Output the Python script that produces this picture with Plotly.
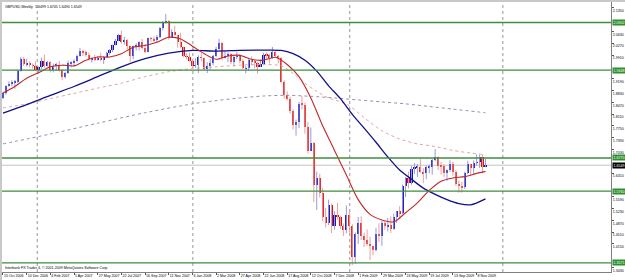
import plotly.graph_objects as go
import pandas as pd

header_text = "GBPUSD,Weekly  1.6499 1.6745 1.6490 1.6549"
footer_text = "Interbank FX Trader 4, \u00a9 2001-2009 MetaQuotes Software Corp."
first_week = "2006-10-15"

opens = [1.8600,1.8740,1.8970,1.9030,1.9080,1.9080,1.9420,1.9780,1.9630,1.9680,
         1.9600,1.9580,1.9460,1.9530,1.9720,1.9570,1.9700,1.9460,1.9580,1.9620,
         1.9450,1.9250,1.9370,1.9660,1.9680,1.9720,1.9880,2.0020,1.9990,1.9910,
         1.9780,1.9800,1.9770,1.9830,1.9750,1.9860,1.9980,2.0070,2.0210,2.0330,
         2.0530,2.0310,2.0370,2.0180,1.9870,2.0190,2.0200,2.0300,2.0120,2.0000,
         2.0420,2.0400,2.0360,2.0450,2.0720,2.0900,2.0940,2.0440,2.0600,2.0520,
         2.0300,2.0160,1.9870,1.9850,1.9720,1.9580,1.9600,1.9840,1.9820,1.9480,
         1.9570,1.9670,1.9870,2.0100,2.0280,1.9830,1.9890,1.9950,1.9700,1.9850,
         1.9870,1.9740,1.9500,1.9500,1.9770,1.9700,1.9670,1.9550,1.9640,1.9920,
         1.9910,1.9820,2.0000,1.9890,1.9830,1.9090,1.8680,1.8580,1.8200,1.7780,
         1.7880,1.8420,1.8400,1.7720,1.6990,1.7240,1.5940,1.6160,1.5700,1.4970,
         1.4800,1.5340,1.4700,1.5030,1.4960,1.4700,1.4560,1.5020,1.4680,1.3740,
         1.4450,1.4780,1.4380,1.4280,1.4150,1.4080,1.3960,1.4450,1.4380,1.4780,
         1.4680,1.4720,1.4610,1.4960,1.5140,1.5080,1.5900,1.6150,1.6000,1.6440,
         1.6470,1.6500,1.6350,1.6300,1.6480,1.6500,1.6700,1.6790,1.6540,1.6520,
         1.6320,1.6400,1.6600,1.6330,1.5970,1.5930,1.5880,1.6310,1.6580,1.6460,
         1.6620,1.6640,1.6800,1.6499]
highs = [1.8790,1.8990,1.9110,1.9140,1.9150,1.9460,1.9850,1.9850,1.9800,1.9720,
         1.9650,1.9720,1.9560,1.9830,1.9920,1.9730,1.9720,1.9650,1.9670,1.9730,
         1.9470,1.9400,1.9740,1.9720,1.9780,1.9920,2.0130,2.0080,2.0050,1.9990,
         1.9840,1.9920,1.9880,1.9980,1.9880,2.0010,2.0090,2.0230,2.0400,2.0560,
         2.0650,2.0460,2.0390,2.0180,2.0200,2.0270,2.0330,2.0400,2.0250,2.0440,
         2.0460,2.0480,2.0520,2.0770,2.0940,2.1160,2.0980,2.0700,2.0800,2.0530,
         2.0590,2.0170,1.9970,1.9980,1.9770,1.9810,1.9900,1.9980,1.9830,1.9690,
         1.9790,1.9920,2.0160,2.0400,2.0310,2.0040,2.0000,1.9960,1.9880,2.0000,
         1.9930,1.9780,1.9580,1.9830,1.9870,1.9770,1.9690,1.9780,1.9980,2.0000,
         1.9950,2.0160,2.0040,1.9920,1.9850,1.9140,1.8800,1.8640,1.8260,1.7940,
         1.8480,1.8660,1.8460,1.7860,1.7700,1.7260,1.6350,1.6290,1.5860,1.5250,
         1.5500,1.5380,1.5140,1.5400,1.5000,1.4770,1.5320,1.5130,1.4750,1.4500,
         1.4970,1.4990,1.4490,1.4590,1.4370,1.4090,1.4640,1.4780,1.4850,1.4830,
         1.4940,1.4990,1.5070,1.5150,1.5300,1.5960,1.6190,1.6350,1.6530,1.6610,
         1.6590,1.6740,1.6460,1.6540,1.6570,1.6740,1.7043,1.6820,1.6650,1.6580,
         1.6420,1.6700,1.6660,1.6400,1.6080,1.6040,1.6350,1.6690,1.6600,1.6700,
         1.6880,1.6860,1.6880,1.6745]
lows = [1.8560,1.8700,1.8940,1.8950,1.8880,1.9050,1.9400,1.9570,1.9560,1.9530,
        1.9500,1.9440,1.9350,1.9480,1.9520,1.9560,1.9380,1.9380,1.9430,1.9400,
        1.9140,1.9190,1.9330,1.9530,1.9560,1.9680,1.9860,1.9880,1.9860,1.9740,
        1.9680,1.9730,1.9740,1.9720,1.9640,1.9830,1.9920,2.0000,2.0200,2.0330,
        2.0250,2.0230,2.0080,1.9690,1.9780,2.0050,2.0050,2.0080,1.9970,1.9990,
        2.0310,2.0310,2.0290,2.0420,2.0660,2.0870,2.0380,2.0430,2.0500,2.0130,
        2.0120,1.9840,1.9780,1.9710,1.9520,1.9520,1.9360,1.9720,1.9450,1.9360,
        1.9460,1.9600,1.9850,2.0070,1.9750,1.9800,1.9690,1.9630,1.9560,1.9780,
        1.9660,1.9480,1.9350,1.9430,1.9600,1.9500,1.9340,1.9540,1.9600,1.9800,
        1.9650,1.9800,1.9850,1.9650,1.9060,1.8580,1.8520,1.8120,1.7640,1.7450,
        1.7680,1.8250,1.7510,1.6910,1.6990,1.5420,1.5180,1.5560,1.4840,1.4650,
        1.4720,1.4480,1.4580,1.4890,1.4600,1.4390,1.4470,1.4490,1.3503,1.3540,
        1.4150,1.4270,1.4050,1.4090,1.3660,1.3800,1.3920,1.4210,1.4090,1.4580,
        1.4530,1.4480,1.4580,1.4790,1.4900,1.5060,1.5580,1.5840,1.5950,1.6280,
        1.6190,1.6320,1.6000,1.6120,1.6300,1.6260,1.6670,1.6400,1.6260,1.6180,
        1.6070,1.6350,1.6230,1.5920,1.5710,1.5710,1.5820,1.6280,1.6240,1.6270,
        1.6540,1.6470,1.6300,1.6490]
closes = [1.8740,1.8970,1.9030,1.9080,1.9080,1.9420,1.9780,1.9630,1.9680,1.9600,
          1.9580,1.9460,1.9530,1.9720,1.9570,1.9700,1.9460,1.9580,1.9620,1.9450,
          1.9250,1.9370,1.9660,1.9680,1.9720,1.9880,2.0020,1.9990,1.9910,1.9780,
          1.9800,1.9770,1.9830,1.9750,1.9860,1.9980,2.0070,2.0210,2.0330,2.0530,
          2.0310,2.0370,2.0180,1.9870,2.0190,2.0200,2.0300,2.0120,2.0000,2.0420,
          2.0400,2.0360,2.0450,2.0720,2.0900,2.0940,2.0440,2.0600,2.0520,2.0300,
          2.0160,1.9870,1.9850,1.9720,1.9580,1.9600,1.9840,1.9820,1.9480,1.9570,
          1.9670,1.9870,2.0100,2.0280,1.9830,1.9890,1.9950,1.9700,1.9850,1.9870,
          1.9740,1.9500,1.9500,1.9770,1.9700,1.9670,1.9550,1.9640,1.9920,1.9910,
          1.9820,2.0000,1.9890,1.9830,1.9090,1.8680,1.8580,1.8200,1.7780,1.7880,
          1.8420,1.8400,1.7720,1.6990,1.7240,1.5940,1.6160,1.5700,1.4970,1.4800,
          1.5340,1.4700,1.5030,1.4960,1.4700,1.4560,1.5020,1.4680,1.3740,1.4450,
          1.4780,1.4380,1.4280,1.4150,1.4080,1.3960,1.4450,1.4380,1.4780,1.4680,
          1.4720,1.4610,1.4960,1.5140,1.5080,1.5900,1.6150,1.6000,1.6440,1.6470,
          1.6500,1.6350,1.6300,1.6480,1.6500,1.6700,1.6790,1.6540,1.6520,1.6320,
          1.6400,1.6600,1.6330,1.5970,1.5930,1.5880,1.6310,1.6580,1.6460,1.6620,
          1.6640,1.6800,1.6500,1.6549]

# indicator lines (week number, price)
ma_fast_weeks = [0,4,8,12,16,20,24,28,32,36,40,44,48,52,56,60,64,68,72,76,80,84,88,92,
                 96,100,104,108,112,116,120,124,128,132,136,140,144,148,152,156,160,163]
ma_fast = [1.875,1.895,1.920,1.937,1.955,1.960,1.958,1.975,1.985,1.985,1.995,2.015,
           2.020,2.030,2.045,2.040,2.018,1.995,1.978,1.988,1.990,1.978,1.975,1.984,
           1.962,1.925,1.860,1.775,1.700,1.625,1.550,1.505,1.488,1.482,1.510,1.540,
           1.578,1.606,1.616,1.620,1.630,1.636]
ma_slow_weeks = [0,8,16,24,32,40,48,56,64,72,80,88,94,98,102,106,110,114,118,122,126,
                 130,134,138,142,146,150,154,158,163]
ma_slow = [1.814,1.840,1.868,1.895,1.925,1.955,1.980,1.997,2.005,2.003,2.005,2.006,
           2.005,1.995,1.975,1.942,1.897,1.858,1.810,1.768,1.725,1.680,1.640,1.612,
           1.585,1.566,1.550,1.538,1.534,1.552]
ma_dot_a_weeks = [0,8,16,24,32,40,48,56,64,72,80,88,94,98,102,106,110,116,122,128,134,
                  140,146,152,158,163]
ma_dot_a = [1.830,1.842,1.858,1.874,1.890,1.905,1.925,1.940,1.950,1.955,1.960,1.962,
            1.958,1.935,1.905,1.880,1.860,1.842,1.800,1.760,1.735,1.720,1.712,1.700,
            1.692,1.686]
ma_dot_b_weeks = [0,16,32,48,64,72,80,88,96,104,112,120,128,136,144,152,163]
ma_dot_b = [1.720,1.750,1.783,1.815,1.842,1.852,1.860,1.866,1.868,1.865,1.860,1.854,
            1.848,1.842,1.834,1.826,1.815]

level_lines = [2.0902, 1.9448, 1.6770, 1.5760, 1.3571]
current_price = 1.6549

price_ticks = [2.1350, 2.0630, 2.0270, 1.9910, 1.9190, 1.8830, 1.8470, 1.8110, 1.7750,
               1.7390, 1.7030, 1.6310, 1.5590, 1.5230, 1.4870, 1.4510, 1.4150, 1.3430]
time_labels = ["15 Oct 2006", "10 Dec 2006", "4 Feb 2007", "1 Apr 2007", "27 May 2007",
               "22 Jul 2007", "16 Sep 2007", "11 Nov 2007", "6 Jan 2008", "2 Mar 2008",
               "27 Apr 2008", "22 Jun 2008", "17 Aug 2008", "12 Oct 2008", "7 Dec 2008",
               "1 Feb 2009", "29 Mar 2009", "24 May 2009", "19 Jul 2009", "13 Sep 2009",
               "8 Nov 2009"]
grid_dates = ["2007-01-04", "2008-01-07", "2009-01-12", "2010-01-09"]

# ---------------------------------------------------------------
FONT = "Liberation Sans"
FS = 3.6
BULL = "#1212C8"
BEAR = "#E01010"
BULL_WICK = "#9A9AD8"
BEAR_WICK = "#E8A0A0"

n = len(closes)
week_dates = pd.date_range(first_week, periods=n, freq="7D")
week_ms = 7 * 24 * 3600 * 1000

fig = go.Figure()

# wicks
for is_bull, col in ((True, BULL_WICK), (False, BEAR_WICK)):
    xs, ys = [], []
    for i in range(n):
        if (closes[i] >= opens[i]) == is_bull:
            xs += [week_dates[i], week_dates[i], None]
            ys += [lows[i], highs[i], None]
    fig.add_trace(go.Scatter(x=xs, y=ys, mode="lines", line=dict(color=col, width=1),
                             hoverinfo="skip", showlegend=False))

# bodies
for is_bull, col in ((True, BULL), (False, BEAR)):
    idx = [i for i in range(n) if (closes[i] >= opens[i]) == is_bull]
    fig.add_trace(go.Bar(
        x=[week_dates[i] for i in idx],
        y=[max(abs(closes[i] - opens[i]), 0.0012) for i in idx],
        base=[min(opens[i], closes[i]) for i in idx],
        width=week_ms * 0.72,
        marker=dict(color=col, line=dict(width=0)),
        showlegend=False))

def ma_trace(weeks, vals, color, width, dash):
    return go.Scatter(x=[week_dates[w] for w in weeks], y=vals, mode="lines",
                      line=dict(color=color, width=width, dash=dash, shape="spline",
                                smoothing=0.8),
                      hoverinfo="skip", showlegend=False)

fig.add_trace(ma_trace(ma_dot_b_weeks, ma_dot_b, "#9C8CB4", 1, "dot"))
fig.add_trace(ma_trace(ma_dot_a_weeks, ma_dot_a, "#E4A4A4", 1, "dot"))
fig.add_trace(ma_trace(ma_slow_weeks, ma_slow, "#10108C", 1.3, "solid"))
fig.add_trace(ma_trace(ma_fast_weeks, ma_fast, "#C02828", 1.1, "solid"))

shapes = []
for g in grid_dates:
    shapes.append(dict(type="line", xref="x", yref="paper", x0=g, x1=g, y0=0, y1=1,
                       line=dict(color="#7A7A7A", width=0.8, dash="dot"), layer="below"))
shapes.append(dict(type="line", xref="paper", yref="y", x0=0, x1=1,
                   y0=current_price, y1=current_price,
                   line=dict(color="#C4C4C4", width=1), layer="below"))
for lv in level_lines:
    shapes.append(dict(type="line", xref="paper", yref="y", x0=0, x1=1, y0=lv, y1=lv,
                       line=dict(color="#3E8E3E", width=1.4)))
# window frame strips
shapes.append(dict(type="rect", xref="paper", yref="paper", x0=-0.01, x1=0,
                   y0=-0.05, y1=1.02, fillcolor="#C8C8C8", line=dict(width=0)))
shapes.append(dict(type="rect", xref="paper", yref="paper", x0=-0.01, x1=1.03,
                   y0=1.0, y1=1.02, fillcolor="#C8C8C8", line=dict(width=0)))

annotations = []
for lv in level_lines:
    annotations.append(dict(xref="paper", yref="y", x=1, y=lv, xanchor="left",
                            yanchor="middle", xshift=1, text="%.4f" % lv, showarrow=False,
                            bgcolor="#2F8F2F", font=dict(family=FONT, size=FS, color="white"),
                            borderpad=0.5))
annotations.append(dict(xref="paper", yref="y", x=1, y=current_price, xanchor="left",
                        yanchor="middle", xshift=1, text="%.4f" % current_price,
                        showarrow=False, bgcolor="#000000",
                        font=dict(family=FONT, size=FS, color="white"), borderpad=0.5))
annotations.append(dict(xref="paper", yref="paper", x=0, y=1, xanchor="left", yanchor="top",
                        xshift=1, yshift=-1, text=header_text, showarrow=False,
                        font=dict(family=FONT, size=FS, color="#000000")))
annotations.append(dict(xref="paper", yref="paper", x=0, y=0, xanchor="left",
                        yanchor="bottom", xshift=1, text=footer_text, showarrow=False,
                        font=dict(family=FONT, size=FS, color="#000000")))

fig.update_layout(
    width=625, height=280,
    margin=dict(l=2, r=14, t=2, b=8, autoexpand=False),
    paper_bgcolor="white", plot_bgcolor="white",
    barmode="overlay", bargap=0,
    showlegend=False,
    font=dict(family=FONT, size=FS, color="black"),
    shapes=shapes, annotations=annotations,
    xaxis=dict(type="date", range=["2006-10-12 16:00", "2010-09-21 19:00"],
               tickvals=list(pd.to_datetime(time_labels, format="%d %b %Y")),
               ticktext=time_labels, ticklabelposition="outside right", tickangle=0,
               ticks="outside", ticklen=2, tickcolor="#555555", automargin=False,
               tickfont=dict(family=FONT, size=FS, color="black"),
               showgrid=False, zeroline=False, showline=True, linecolor="#808080",
               linewidth=1, mirror=False, fixedrange=True),
    yaxis=dict(side="right", range=[1.3292, 2.1527], tickvals=price_ticks,
               ticktext=["%.4f" % t for t in price_ticks],
               ticklabelposition="outside bottom", automargin=False,
               ticks="outside", ticklen=2, tickcolor="#555555",
               tickfont=dict(family=FONT, size=FS, color="black"),
               showgrid=False, zeroline=False, showline=True, linecolor="#808080",
               linewidth=1, fixedrange=True),
)

fig.write_html("out.html")
